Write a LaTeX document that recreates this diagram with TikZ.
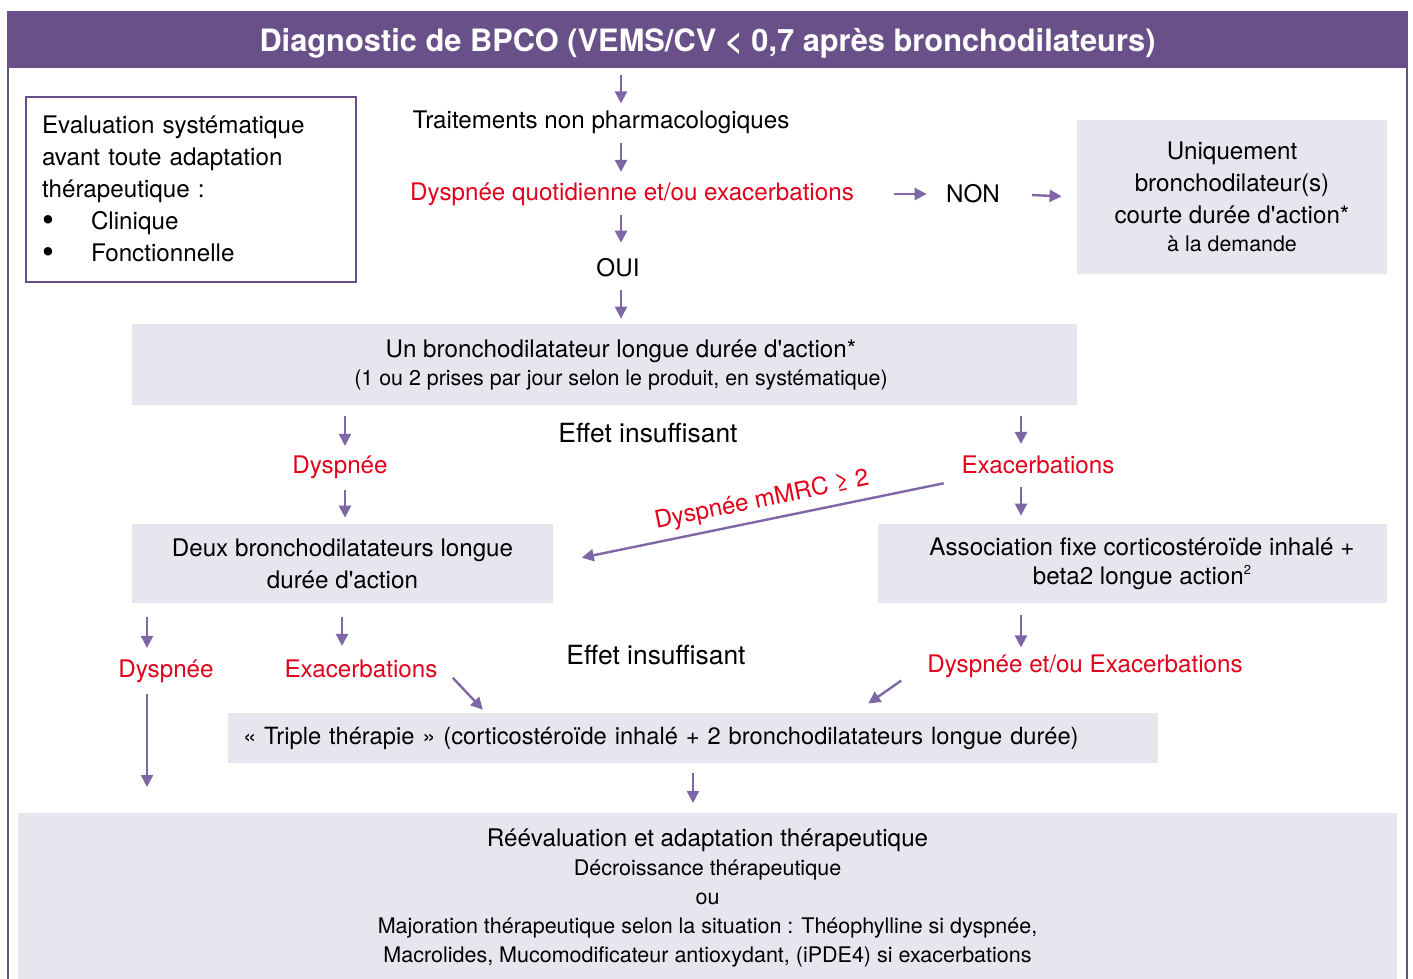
\documentclass[tikz,border=0pt]{standalone}
\usepackage{fontspec}
\setmainfont{TeX Gyre Heros}
\usetikzlibrary{arrows.meta}
\definecolor{bpcopurple}{HTML}{6A5089}
\definecolor{flowpurple}{HTML}{7F66A7}
\definecolor{boxgrey}{HTML}{E8E5EE}
\definecolor{alertred}{HTML}{E2001A}
\newcommand{\smalltxt}{\fontsize{10.75}{14.5}\selectfont}
\newcommand{\apos}{\textquotesingle}
\newcommand{\bigbullet}{\makebox[24.5pt][l]{\raisebox{-1.2pt}{\fontsize{17}{16}\selectfont\textbullet}}}

\begin{document}
\begin{tikzpicture}[x=0.5pt,y=-0.5pt]
            \tikzstyle{every node}=[font=\fontsize{12.1}{16}\selectfont]
            \tikzstyle{flow}=[draw=flowpurple, line width=1.2pt, -{Triangle[length=6pt,width=6pt]}, shorten <=2pt, shorten >=2pt]
            \tikzstyle{greybox}=[fill=boxgrey, align=center]
            \tikzstyle{alert}=[text=alertred]
            \tikzstyle{effet}=[font=\fontsize{13.2}{16}\selectfont]

            \useasboundingbox (0,0) rectangle (1413,979);
            \clip (0,0) rectangle (1413,979);

            % frame and title
            \draw[bpcopurple, line width=1pt] (8,990) -- (8,12) -- (1407,12) -- (1407,990);
            \node[fill=bpcopurple, minimum width=699.5pt, minimum height=28pt, inner sep=0, text depth=0pt, text=white, font=\bfseries\fontsize{15.4}{16}\selectfont] (head) at (707.5,40) {Diagnostic de BPCO (VEMS/CV < 0,7 après bronchodilateurs)};

            % evaluation box
            \node[draw=bpcopurple, line width=1pt, text width=149pt, inner xsep=8pt, minimum height=92.5pt, align=left] (eval) at (191,189.5) {Evaluation systématique\\avant toute adaptation\\thérapeutique :\\\bigbullet Clinique\\\bigbullet Fonctionnelle};

            % first level
            \node (trait) at (601,122) {Traitements non pharmacologiques};
            \node[alert] (dysq) at (632,194) {Dyspnée quotidienne et/ou exacerbations};
            \node (oui) at (618,268) {OUI};
            \node (non) at (973,194) {NON};
            \node[greybox, minimum width=155pt, minimum height=77pt] (uniq) at (1232,197) {Uniquement\\bronchodilateur(s)\\courte durée d\apos action*\\[-2pt]{\fontsize{10.7}{14}\selectfont à la demande}};
            \node[greybox, minimum width=472.5pt, minimum height=40.5pt] (un) at (604.5,364.5) {};
            \node[align=center] (untxt) at (621,365) {Un bronchodilatateur longue durée d\apos action*\\[-2pt]{\fontsize{10.7}{14}\selectfont (1 ou 2 prises par jour selon le produit, en systématique)}};

            % second level
            \node[effet] (eff1) at (648,433) {Effet insuffisant};
            \node[alert] (dys1) at (340,467) {Dyspnée};
            \node[alert] (exa1) at (1038,465) {Exacerbations};
            \node[greybox, minimum width=210.5pt, minimum height=39.5pt] (deux) at (342.5,563.5) {Deux bronchodilatateurs longue\\durée d\apos action};
            \node[greybox, minimum width=254.5pt, minimum height=39.5pt] (assoc) at (1132.5,563.5) {};
            \node[align=center] (assoctxt) at (1142,564) {Association fixe corticostéroïde inhalé +\\[-1.5pt]beta2 longue action\raisebox{5pt}{\fontsize{6.5}{7}\selectfont 2}};

            % third level
            \node[alert] (dys2) at (166,671) {Dyspnée};
            \node[alert] (exa2) at (361,669) {Exacerbations};
            \node[effet] (eff2) at (656,655) {Effet insuffisant};
            \node[alert] (dyse) at (1085,666) {Dyspnée et/ou Exacerbations};
            \node[greybox, text width=450pt, inner xsep=7.5pt, minimum height=25pt, align=left, font=\fontsize{11.85}{16}\selectfont] (triple) at (693,738) {«~Triple thérapie~» (corticostéroïde inhalé + 2 bronchodilatateurs longue durée)};

            % final box
            \node[greybox, minimum width=689.5pt, minimum height=85pt, anchor=north, font=\smalltxt] (reev) at (707.5,813) {{\fontsize{12.1}{16}\selectfont Réévaluation et adaptation thérapeutique}\\Décroissance thérapeutique\\ou\\Majoration thérapeutique selon la situation : Théophylline si dyspnée,\\Macrolides, Mucomodificateur antioxydant, (iPDE4) si exacerbations};

            % arrows first level
            \draw[flow, shorten <=3.5pt, shorten >=0pt] (head.south -| 621,0) -- (trait.north -| 621,0);
            \draw[flow, shorten <=1.3pt, shorten >=1.8pt] (trait.south -| 621,0) -- (dysq.north -| 621,0);
            \draw[flow, shorten <=1.3pt, shorten >=4.5pt] (dysq.south -| 621,0) -- (oui.north -| 621,0);
            \draw[flow, shorten <=3pt, shorten >=2.5pt] (oui.south -| 621,0) -- (un.north -| 621,0);
            \draw[flow, shorten <=16.6pt, shorten >=6.2pt] (dysq.east) -- (non.west);
            \draw[flow, shorten <=12.6pt, shorten >=7.5pt] (non.east) -- (uniq.west);

            % arrows second level
            \draw[flow, shorten <=5.5pt, shorten >=1.3pt] ([xshift=2.5pt]dys1.north |- un.south) -- ([xshift=2.5pt]dys1.north);
            \draw[flow, shorten <=5.5pt, shorten >=2.5pt] ([xshift=-8.5pt]exa1.north |- un.south) -- ([xshift=-8.5pt]exa1.north);
            \draw[flow, shorten <=2.3pt, shorten >=3pt] ([xshift=2.5pt]dys1.south) -- ([xshift=2.5pt]dys1.south |- deux.north);
            \draw[flow, shorten <=3pt, shorten >=4pt] ([xshift=-8.5pt]exa1.south) -- ([xshift=-8.5pt]exa1.south |- assoc.north);
            \draw[flow, shorten <=5.5pt, shorten >=14.5pt] (exa1.south west) -- node[pos=0.47, above, sloped, alert] {Dyspnée mMRC ≥ 2} (deux.east);

            % arrows third level
            \draw[flow, shorten <=7pt, shorten >=2.3pt] ([xshift=-9.5pt]dys2.north |- deux.south) -- ([xshift=-9.5pt]dys2.north);
            \draw[flow, shorten <=7pt, shorten >=3.5pt] ([xshift=-9.5pt]exa2.north |- deux.south) -- ([xshift=-9.5pt]exa2.north);
            \draw[flow, shorten <=6pt, shorten >=0pt] ([xshift=-32pt]dyse.north |- assoc.south) -- ([xshift=-32pt]dyse.north);
            \draw[flow, shorten <=2.3pt, shorten >=13pt] ([xshift=-9.5pt]dys2.south) -- ([xshift=-9.5pt]dys2.south |- reev.north);
            \draw[flow, shorten <=6pt, shorten >=2pt] (exa2.east) -- ([xshift=129pt]triple.north west);
            \draw[flow, shorten <=0pt, shorten >=7.9pt] ([xshift=-9.5pt, yshift=2pt]dyse.south west) -- ([xshift=-151.5pt]triple.north east);
            \draw[flow, shorten <=5pt, shorten >=5pt] (triple.south) -- (reev.north -| triple.south);
        \end{tikzpicture}
\end{document}
